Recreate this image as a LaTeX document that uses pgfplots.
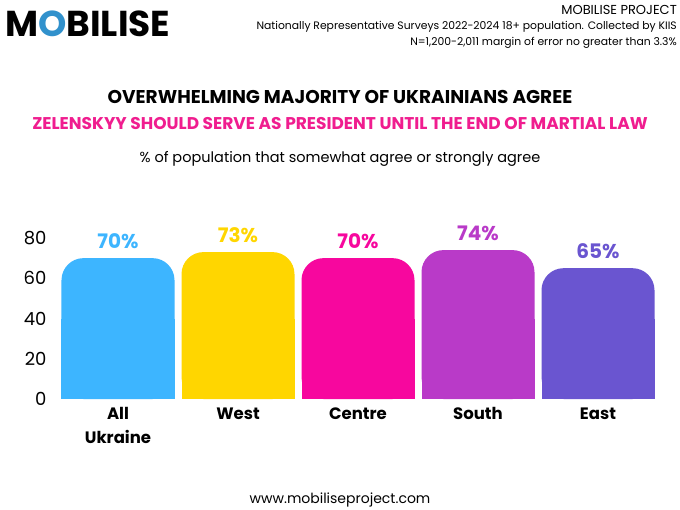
\documentclass[border=0pt]{standalone}
\usepackage{pgfplots}
\pgfplotsset{compat=1.18}
\usepackage{fontspec}
\setmainfont{Poppins}
\definecolor{cA}{HTML}{3DB5FF}
\definecolor{cB}{HTML}{FFD600}
\definecolor{cC}{HTML}{F7079E}
\definecolor{cD}{HTML}{B93AC8}
\definecolor{cE}{HTML}{6A55D0}
\definecolor{pinkt}{HTML}{F01D8F}
\begin{document}
\begin{tikzpicture}[x=1pt,y=1pt]
\useasboundingbox[fill=white] (0,0) rectangle (680,-510);
\node[anchor=west,font=\fontsize{36}{36}\selectfont\bfseries,inner sep=0] at (5,-24) {M\textcolor{cA!80!black}{O}BILISE};
\node[anchor=east,font=\fontsize{13}{13}\selectfont,inner sep=0] at (677,-10) {MOBILISE PROJECT};
\node[anchor=east,font=\fontsize{10.8}{10.8}\selectfont,inner sep=0] at (677,-27) {Nationally Representative Surveys 2022-2024 18+ population. Collected by KIIS};
\node[anchor=east,font=\fontsize{10.8}{10.8}\selectfont,inner sep=0] at (677,-43) {N=1,200-2,011 margin of error no greater than 3.3\%};
\node[font=\fontsize{18.5}{18.5}\selectfont\bfseries,inner sep=0] at (340,-97) {OVERWHELMING MAJORITY OF UKRAINIANS AGREE};
\node[font=\fontsize{17}{17}\selectfont\bfseries,text=pinkt,inner sep=0] at (340,-124) {ZELENSKYY SHOULD SERVE AS PRESIDENT UNTIL THE END OF MARTIAL LAW};
\node[font=\fontsize{14.5}{14.5}\selectfont,inner sep=0] at (340,-159) {\% of population that somewhat agree or strongly agree};
\node[font=\fontsize{14}{14}\selectfont,inner sep=0] at (340,-500) {www.mobiliseproject.com};
\begin{axis}[at={(58pt,-399pt)},anchor=south west,scale only axis,
  width=600pt,height=161pt,xmin=-0.5,xmax=4.5,ymin=0,ymax=80,
  axis line style={draw=none},ytick={0,20,40,60,80},
  major tick length=0pt,
  xtick={0,1,2,3,4},xticklabels={All\\Ukraine,West,Centre,South,East},
  xticklabel style={align=center,font=\fontsize{16.5}{24}\selectfont\bfseries,yshift=-5pt},
  yticklabel style={font=\fontsize{18}{18}\selectfont,xshift=-8pt},
  /pgf/number format/assume math mode=true,
  ybar,bar width=113pt,bar shift=0pt,clip=false,
  every axis plot/.append style={draw=none},
  nodes near coords={\pgfmathprintnumber{\pgfplotspointmeta}\%},
  every node near coord/.append style={font=\fontsize{20}{20}\selectfont\bfseries,yshift=6pt},
]
\addplot[fill=cA,rounded corners=22pt,nodes near coords style={text=cA}] coordinates {(0,70)};
\addplot[fill=cB,rounded corners=22pt,nodes near coords style={text=cB}] coordinates {(1,73)};
\addplot[fill=cC,rounded corners=22pt,nodes near coords style={text=cC}] coordinates {(2,70)};
\addplot[fill=cD,rounded corners=22pt,nodes near coords style={text=cD}] coordinates {(3,74)};
\addplot[fill=cE,rounded corners=22pt,nodes near coords style={text=cE}] coordinates {(4,65)};
\addplot[fill=cA,nodes near coords={}] coordinates {(0,40)};
\addplot[fill=cB,nodes near coords={}] coordinates {(1,40)};
\addplot[fill=cC,nodes near coords={}] coordinates {(2,40)};
\addplot[fill=cD,nodes near coords={}] coordinates {(3,40)};
\addplot[fill=cE,nodes near coords={}] coordinates {(4,40)};
\end{axis}
\end{tikzpicture}
\end{document}
